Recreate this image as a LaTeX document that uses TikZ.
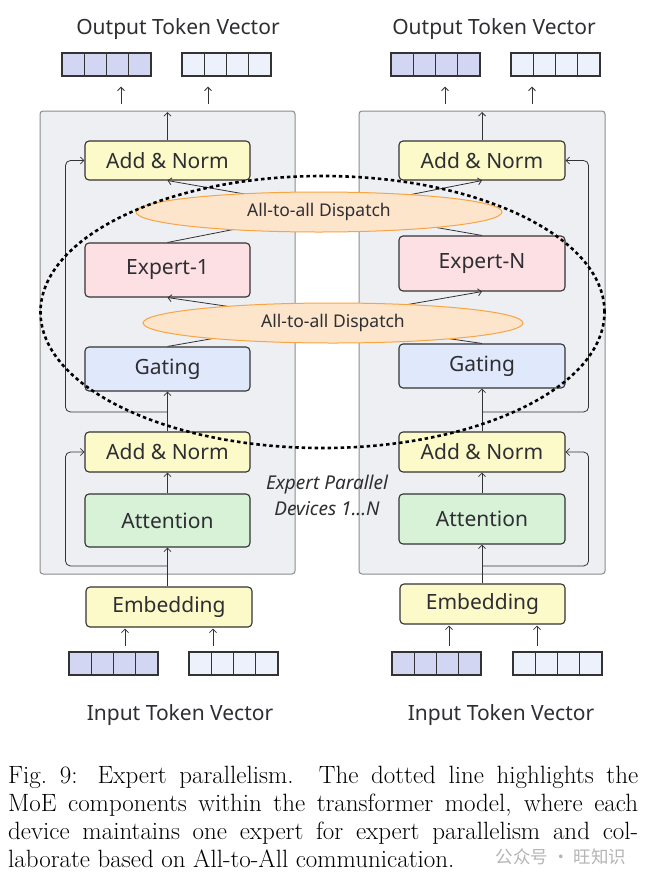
\documentclass[tikz,border=0pt]{standalone}
\usepackage{fontspec}
\newfontfamily\notosans{Noto Sans}
\newfontfamily\cjkfont{Noto Sans CJK SC}
\usetikzlibrary{arrows.meta,shapes.geometric,calc}
\definecolor{txt}{HTML}{2E2E33}
\definecolor{contfill}{HTML}{EEEFF2}
\definecolor{contedge}{HTML}{8C8C8C}
\definecolor{yel}{HTML}{FCFAC8}
\definecolor{pnk}{HTML}{FDE0E3}
\definecolor{blu}{HTML}{E0E8FB}
\definecolor{grn}{HTML}{D7F2D7}
\definecolor{orf}{HTML}{FDE5CC}
\definecolor{ore}{HTML}{F8A443}
\definecolor{vdark}{HTML}{D2D6F3}
\definecolor{vlight}{HTML}{EDF1FB}
\definecolor{boxedge}{HTML}{333333}
\definecolor{wm}{HTML}{B5B5B5}
\newcommand\tokvec[4]{%
  \foreach \i in {0,...,3}{\node[cell,fill=#4] (#1\i) at ({#2+11.125+\i*22.25},#3) {};}}
\begin{document}
\begin{tikzpicture}[x=1pt,y=-1pt,
  >={Straight Barb[length=3.5pt,width=7pt]},
  container/.style={draw=contedge, fill=contfill, line width=1pt, rounded corners=3pt, inner sep=0pt},
  blk/.style={draw=boxedge, line width=1.1pt, rounded corners=4pt, inner sep=0pt, text=txt,
    font=\notosans\fontsize{21}{21}\selectfont},
  cell/.style={draw=boxedge, line width=1.3pt, minimum width=22.25pt, minimum height=23pt, inner sep=0pt},
  title/.style={text=txt, font=\notosans\fontsize{21}{21}\selectfont, inner sep=0pt},
  disp/.style={ellipse, draw=ore, fill=orf, line width=1pt, inner sep=0pt, text=txt,
    font=\notosans\fontsize{17.5}{17.5}\selectfont},
  flow/.style={->, draw=boxedge, line width=0.8pt},
  resid/.style={->, draw=boxedge, line width=0.8pt, rounded corners=5pt},
  moe/.style={ellipse, draw=black, line width=2.6pt, dash pattern=on 3.5pt off 3pt, inner sep=0pt}
]
\useasboundingbox (0,0) rectangle (648,884);
\fill[white] (0,0) rectangle (648,884);

% containers
\node[container, minimum width=255pt, minimum height=463pt] (boxL) at (167.5,342.5) {};
\node[container, minimum width=246pt, minimum height=463pt] (boxR) at (482,342.5) {};

% titles
\node[title] (otL) at (178,29) {Output Token Vector};
\node[title] (otR) at (494,29) {Output Token Vector};
\node[title] (itL) at (180,715) {Input Token Vector};
\node[title] (itR) at (501,715) {Input Token Vector};

% token vectors
\tokvec{outLa}{62}{64.5}{vdark}
\tokvec{outLb}{182}{64.5}{vlight}
\tokvec{outRa}{391}{64.5}{vdark}
\tokvec{outRb}{511}{64.5}{vlight}
\tokvec{inLa}{69}{663.5}{vdark}
\tokvec{inLb}{189}{663.5}{vlight}
\tokvec{inRa}{392}{663.5}{vdark}
\tokvec{inRb}{513}{663.5}{vlight}

% left device blocks
\node[blk, fill=yel, minimum width=165pt, minimum height=39pt] (an1L) at (167.5,160.5) {Add \& Norm};
\node[blk, fill=pnk, minimum width=165pt, minimum height=54pt] (expL) at (167.5,270) {Expert-1};
\node[blk, fill=blu, minimum width=165pt, minimum height=44pt] (gateL) at (167.5,369) {Gating};
\node[blk, fill=yel, minimum width=165pt, minimum height=40pt] (an2L) at (167.5,452) {Add \& Norm};
\node[blk, fill=grn, minimum width=165pt, minimum height=53pt] (attL) at (167.5,520.5) {Attention};
\node[blk, fill=yel, minimum width=166pt, minimum height=40pt] (embL) at (169,607) {Embedding};

% right device blocks
\node[blk, fill=yel, minimum width=166pt, minimum height=39pt] (an1R) at (482,160.5) {Add \& Norm};
\node[blk, fill=pnk, minimum width=166pt, minimum height=55pt] (expR) at (482,263.5) {Expert-N};
\node[blk, fill=blu, minimum width=166pt, minimum height=44pt] (gateR) at (482,366) {Gating};
\node[blk, fill=yel, minimum width=166pt, minimum height=40pt] (an2R) at (482,452) {Add \& Norm};
\node[blk, fill=grn, minimum width=166pt, minimum height=50pt] (attR) at (482,519) {Attention};
\node[blk, fill=yel, minimum width=165pt, minimum height=40pt] (embR) at (482.5,604) {Embedding};

% free-end coordinates
\coordinate (oL1) at (121,104); \coordinate (oL2) at (208,104);
\coordinate (oR1) at (445,104); \coordinate (oR2) at (532,104);
\coordinate (iL1) at (125,646); \coordinate (iL2) at (213,646);
\coordinate (iR1) at (449,646); \coordinate (iR2) at (537,646);
\coordinate (brL1) at (167.5,566); \coordinate (brL2) at (167.5,412);
\coordinate (brR1) at (482,566); \coordinate (brR2) at (482,412);

% output / input arrows
\draw[flow, shorten >=10pt] (oL1) -- (oL1 |- outLa2.south);
\draw[flow, shorten >=10pt] (oL2) -- (oL2 |- outLb1.south);
\draw[flow, shorten >=10pt] (oR1) -- (oR1 |- outRa2.south);
\draw[flow, shorten >=10pt] (oR2) -- (oR2 |- outRb1.south);
\draw[flow, shorten >=1pt] (iL1) -- (iL1 |- embL.south);
\draw[flow, shorten >=1pt] (iL2) -- (iL2 |- embL.south);
\draw[flow, shorten >=1pt] (iR1) -- (iR1 |- embR.south);
\draw[flow, shorten >=1pt] (iR2) -- (iR2 |- embR.south);

% vertical flow
\draw[flow, shorten >=1.5pt] (an1L.north) -- (an1L.north |- boxL.north);
\draw[flow, shorten >=1.5pt] (an1R.north) -- (an1R.north |- boxR.north);
\draw[flow] (attL.south |- embL.north) -- (attL.south);
\draw[flow] (attR.south |- embR.north) -- (attR.south);
\draw[flow] (attL.north) -- (an2L.south);
\draw[flow] (attR.north) -- (an2R.south);
\draw[flow] (an2L.north) -- (gateL.south);
\draw[flow] (an2R.north) -- (gateR.south);

% residual connections
\draw[resid] (brL1) -| ([xshift=-19pt]an2L.west) -- (an2L.west);
\draw[resid] (brL2) -| ([xshift=-19pt]an1L.west) -- (an1L.west);
\draw[resid] (brR1) -| ([xshift=23pt]an2R.east) -- (an2R.east);
\draw[resid] (brR2) -| ([xshift=23pt]an1R.east) -- (an1R.east);

% all-to-all cross connections
\draw[flow] (gateL.north) -- (expR.south);
\draw[flow] (gateR.north) -- (expL.south);
\draw[flow] (expL.north) -- (an1R.south);
\draw[flow] (expR.north) -- (an1L.south);

% dispatch ellipses
\node[disp, minimum width=366pt, minimum height=40pt] (dispT) at (319,212) {All-to-all Dispatch};
\node[disp, minimum width=380pt, minimum height=40pt] (dispB) at (333,323) {All-to-all Dispatch};

% MoE highlight
\node[moe, minimum width=564pt, minimum height=272pt] (moeE) at (322.5,312) {};

% label
\node[text=txt, font=\notosans\itshape\fontsize{19}{26}\selectfont, align=center, inner sep=0pt] (epl) at (327,495)
  {Expert Parallel\\Devices 1...N};

% caption
\node[anchor=north west, inner sep=0pt, text width=630pt, align=justify,
  font=\fontsize{25}{28}\selectfont] (cap) at (8,766)
  {Fig.~9: Expert parallelism. The dotted line highlights the\linebreak
   MoE components within the transformer model, where each\linebreak
   device maintains one expert for expert parallelism and col-\linebreak
   laborate based on All-to-All communication.};

% watermark
\node[text=wm, font=\cjkfont\fontsize{17.5}{17.5}\selectfont, inner sep=0pt] (wmk) at (561,857) {公众号 · 旺知识};
\end{tikzpicture}
\end{document}
